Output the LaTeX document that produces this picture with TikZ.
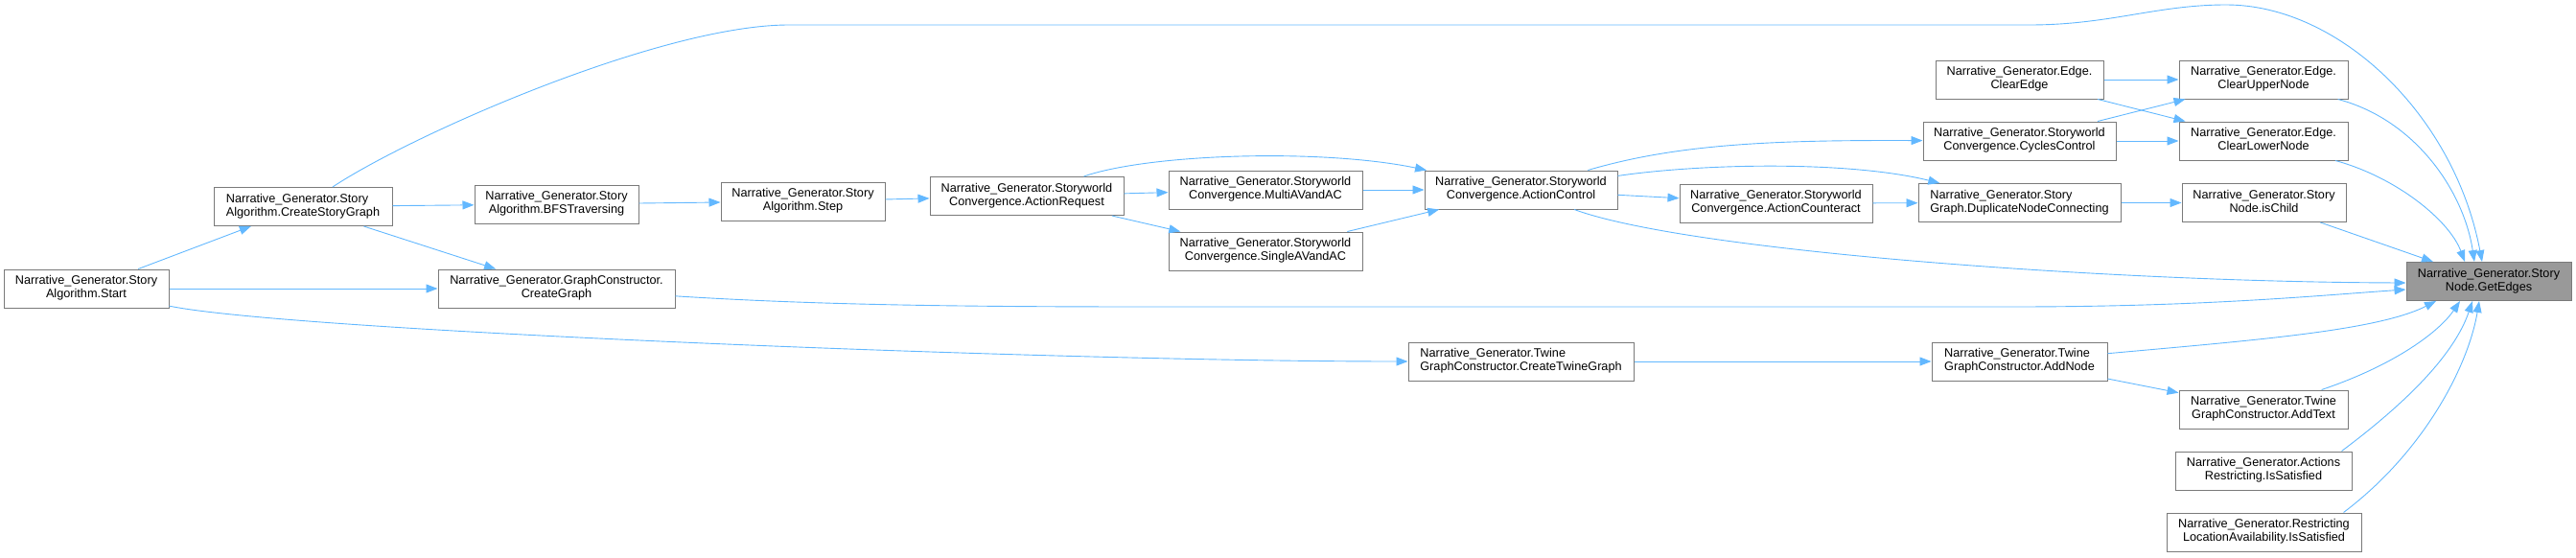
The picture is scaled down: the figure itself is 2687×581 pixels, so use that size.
\documentclass[tikz,border=0pt]{standalone}
\usepackage{fontspec}
\setmainfont{Liberation Sans}
\usetikzlibrary{arrows.meta}
\definecolor{edgeblue}{HTML}{63B8FF}
\definecolor{nodegray}{HTML}{7A7A7A}
\definecolor{rootfill}{HTML}{999999}
\newcommand{\twoline}[2]{\begin{tabular}{@{}l@{}}#1\\\multicolumn{1}{@{}c@{}}{#2}\end{tabular}}
\newcommand{\nodefont}{\fontsize{12.7}{14}\selectfont}
\tikzset{
  nb/.style={draw=nodegray, fill=white, line width=1pt, inner sep=0pt, minimum height=40pt, font=\nodefont, rectangle},
  rootnb/.style={nb, fill=rootfill},
  edge/.style={draw=edgeblue, line width=0.9pt, -{Triangle[length=12pt,width=9pt]}}
}
\begin{document}
\begin{tikzpicture}[x=1pt,y=-1pt]
\useasboundingbox (0,0) rectangle (2687,581);
% nodes
\node[nb, minimum width=172pt] (start) at (90,301) {\twoline{Narrative\_Generator.Story}{Algorithm.Start}};
\node[nb, minimum width=186pt] (csg) at (316,215.5) {\twoline{Narrative\_Generator.Story}{Algorithm.CreateStoryGraph}};
\node[nb, minimum width=171pt] (bfs) at (580.5,213) {\twoline{Narrative\_Generator.Story}{Algorithm.BFSTraversing}};
\node[nb, minimum width=247pt] (cg) at (580.5,301) {\twoline{Narrative\_Generator.GraphConstructor.}{CreateGraph}};
\node[nb, minimum width=171pt] (step) at (837.5,210) {\twoline{Narrative\_Generator.Story}{Algorithm.Step}};
\node[nb, minimum width=202pt] (areq) at (1071,204.5) {\twoline{Narrative\_Generator.Storyworld}{Convergence.ActionRequest}};
\node[nb, minimum width=202pt] (multi) at (1320,198) {\twoline{Narrative\_Generator.Storyworld}{Convergence.MultiAVandAC}};
\node[nb, minimum width=202pt] (single) at (1320,262) {\twoline{Narrative\_Generator.Storyworld}{Convergence.SingleAVandAC}};
\node[nb, minimum width=201pt] (actl) at (1586.5,198) {\twoline{Narrative\_Generator.Storyworld}{Convergence.ActionControl}};
\node[nb, minimum width=235pt] (ctg) at (1586.5,377) {\twoline{Narrative\_Generator.Twine}{GraphConstructor.CreateTwineGraph}};
\node[nb, minimum width=201pt] (acnt) at (1852.5,212) {\twoline{Narrative\_Generator.Storyworld}{Convergence.ActionCounteract}};
\node[nb, minimum width=175pt] (clearedge) at (2106.5,83) {\twoline{Narrative\_Generator.Edge.}{ClearEdge}};
\node[nb, minimum width=201pt] (cycles) at (2106.5,147) {\twoline{Narrative\_Generator.Storyworld}{Convergence.CyclesControl}};
\node[nb, minimum width=211pt] (dup) at (2106.5,211.5) {\twoline{Narrative\_Generator.Story}{Graph.DuplicateNodeConnecting}};
\node[nb, minimum width=183pt] (addnode) at (2106.5,377) {\twoline{Narrative\_Generator.Twine}{GraphConstructor.AddNode}};
\node[nb, minimum width=176pt] (cun) at (2361,83) {\twoline{Narrative\_Generator.Edge.}{ClearUpperNode}};
\node[nb, minimum width=176pt] (cln) at (2361,147) {\twoline{Narrative\_Generator.Edge.}{ClearLowerNode}};
\node[nb, minimum width=171pt] (ischild) at (2361.5,211.5) {\twoline{Narrative\_Generator.Story}{Node.isChild}};
\node[nb, minimum width=176pt] (addtext) at (2361,427) {\twoline{Narrative\_Generator.Twine}{GraphConstructor.AddText}};
\node[nb, minimum width=184pt] (actrest) at (2361,491) {\twoline{Narrative\_Generator.Actions}{Restricting.IsSatisfied}};
\node[nb, minimum width=203pt] (rla) at (2361.5,555) {\twoline{Narrative\_Generator.Restricting}{LocationAvailability.IsSatisfied}};
\node[rootnb, minimum width=172pt] (ge) at (2596,293.5) {\twoline{Narrative\_Generator.Story}{Node.GetEdges}};
% edges
\draw[edge] (start) -- (csg);
\draw[edge] (start) -- (cg);
\draw[edge] (start) .. controls (300,345) and (1100,377) .. (ctg);
\draw[edge] (csg) -- (bfs);
\draw[edge] (csg) -- (cg);
\draw[edge] (csg) .. controls (430,140) and (690,26) .. (823,26) -- (2117,26)
  .. controls (2200,26) and (2250,5) .. (2322,5)
  .. controls (2440,5) and (2560,120) .. ([xshift=-7pt]ge.north);
\draw[edge] (bfs) -- (step);
\draw[edge] (step) -- (areq);
\draw[edge] (areq) -- (multi);
\draw[edge] (areq) -- (single);
\draw[edge] (areq) .. controls (1200,160) and (1380,155) .. (actl);
\draw[edge] (multi) -- (actl);
\draw[edge] (single) -- (actl);
\draw[edge] (actl) .. controls (1750,150) and (1850,146) .. (cycles);
\draw[edge] (actl) .. controls (1780,170) and (1930,168) .. (dup);
\draw[edge] (actl) -- (acnt);
\draw[edge] (actl) .. controls (1760,262) and (2200,294) .. ([yshift=-1.5pt]ge.west);
\draw[edge] (cg) .. controls (850,318) and (1000,320) .. (1200,320) -- (2100,320)
  .. controls (2300,320) and (2420,308) .. ([yshift=-8.5pt]ge.west);
\draw[edge] (acnt) -- (dup);
\draw[edge] (cycles) -- (cun);
\draw[edge] (cycles) -- (cln);
\draw[edge] (clearedge) -- (cun);
\draw[edge] (clearedge) -- (cln);
\draw[edge] (dup) -- (ischild);
\draw[edge] (cun) .. controls (2520,125) and (2570,200) .. ([xshift=-15pt]ge.north);
\draw[edge] (cln) .. controls (2500,185) and (2555,230) .. ([xshift=-25pt]ge.north);
\draw[edge] (ischild) -- ([xshift=-58pt]ge.north);
\draw[edge] (ctg) -- (addnode);
\draw[edge] (addnode) .. controls (2350,355) and (2480,345) .. ([xshift=-55pt]ge.south);
\draw[edge] (addnode) -- (addtext);
\draw[edge] (addtext) .. controls (2500,380) and (2545,345) .. ([xshift=-30pt]ge.south);
\draw[edge] ([xshift=-11pt]actrest.north east) .. controls (2510,420) and (2560,370) .. ([xshift=-17pt]ge.south);
\draw[edge] ([xshift=-19pt]rla.north east) .. controls (2530,470) and (2575,380) .. ([xshift=-10pt]ge.south);
\end{tikzpicture}
\end{document}
